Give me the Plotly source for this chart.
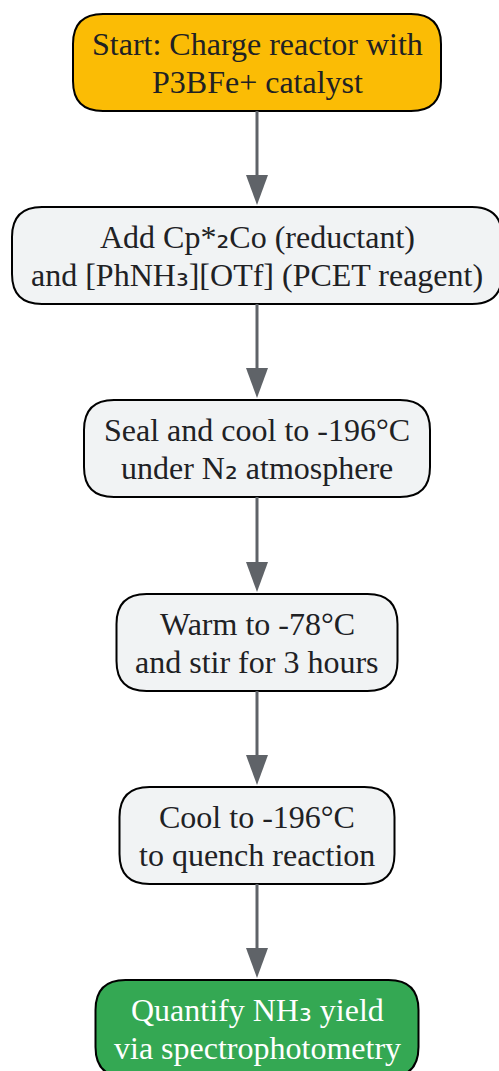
import plotly.graph_objects as go

# ---- data ----
step_lines = [
    ["Start: Charge reactor with", "P3BFe+ catalyst"],
    ["Add Cp*₂Co (reductant)", "and [PhNH₃][OTf] (PCET reagent)"],
    ["Seal and cool to -196°C", "under N₂ atmosphere"],
    ["Warm to -78°C", "and stir for 3 hours"],
    ["Cool to -196°C", "to quench reaction"],
    ["Quantify NH₃ yield", "via spectrophotometry"],
]
step_kind = ["start", "step", "step", "step", "step", "end"]

# ---- layout / style ----
W, H = 499, 1071
CX = 257
box_half_w = [184, 245, 173, 140.5, 137.5, 161.5]
box_tops = [14, 207, 400, 594, 787, 980]
BOX_H = 97
R = 30
fill = {"start": "#FBBC05", "step": "#F1F3F4", "end": "#34A853"}
txtcol = {"start": "#202124", "step": "#202124", "end": "#FFFFFF"}
ARROW = "#5F6368"
FONT = "Liberation Serif"
SUB_FONT = "DejaVu Sans"
FONT_SIZE = 32
LINE_GAP = 38


def styled(s):
    out = ""
    for ch in s:
        if ch in "₀₁₂₃₄₅₆₇₈₉":
            out += f"<span style=\"font-family:'{SUB_FONT}'\">{ch}</span>"
        else:
            out += ch
    return out


def rrect(x0, y0, x1, y1, r):
    return (f"M {x0+r},{y0} L {x1-r},{y0} Q {x1},{y0} {x1},{y0+r} "
            f"L {x1},{y1-r} Q {x1},{y1} {x1-r},{y1} L {x0+r},{y1} "
            f"Q {x0},{y1} {x0},{y1-r} L {x0},{y0+r} Q {x0},{y0} {x0+r},{y0} Z")


shapes, annotations = [], []
for i, lines in enumerate(step_lines):
    top = box_tops[i]
    x0, x1 = CX - box_half_w[i], CX + box_half_w[i]
    shapes.append(dict(type="path", path=rrect(x0, top, x1, top + BOX_H, R),
                       fillcolor=fill[step_kind[i]],
                       line=dict(color="#000000", width=2), layer="below"))
    cy = top + BOX_H / 2
    for j, ln in enumerate(lines):
        annotations.append(dict(x=CX, y=cy + (j - 0.5) * LINE_GAP, text=styled(ln),
                                showarrow=False, xanchor="center", yanchor="middle",
                                font=dict(family=FONT, size=FONT_SIZE,
                                          color=txtcol[step_kind[i]])))
    if i < len(step_lines) - 1:
        y_start = top + BOX_H
        y_tip = box_tops[i + 1] - 2
        y_base = y_tip - 30
        shapes.append(dict(type="line", x0=CX, x1=CX, y0=y_start, y1=y_base + 2,
                           line=dict(color=ARROW, width=3)))
        shapes.append(dict(type="path",
                           path=f"M {CX-11},{y_base} L {CX+11},{y_base} L {CX},{y_tip} Z",
                           fillcolor=ARROW, line=dict(color=ARROW, width=0)))

fig = go.Figure()
fig.update_layout(
    width=W, height=H,
    margin=dict(l=0, r=0, t=0, b=0),
    paper_bgcolor="#FFFFFF", plot_bgcolor="#FFFFFF",
    font=dict(family=FONT),
    xaxis=dict(range=[0, W], visible=False, fixedrange=True),
    yaxis=dict(range=[H, 0], visible=False, fixedrange=True),
    shapes=shapes, annotations=annotations, showlegend=False,
)
fig.write_html("out.html", config={"displayModeBar": False})

with open("out.html", encoding="utf-8") as f:
    html = f.read()
html = html.replace("<body>", '<body style="margin:0;padding:0;overflow:hidden">', 1)
with open("out.html", "w", encoding="utf-8") as f:
    f.write(html)
